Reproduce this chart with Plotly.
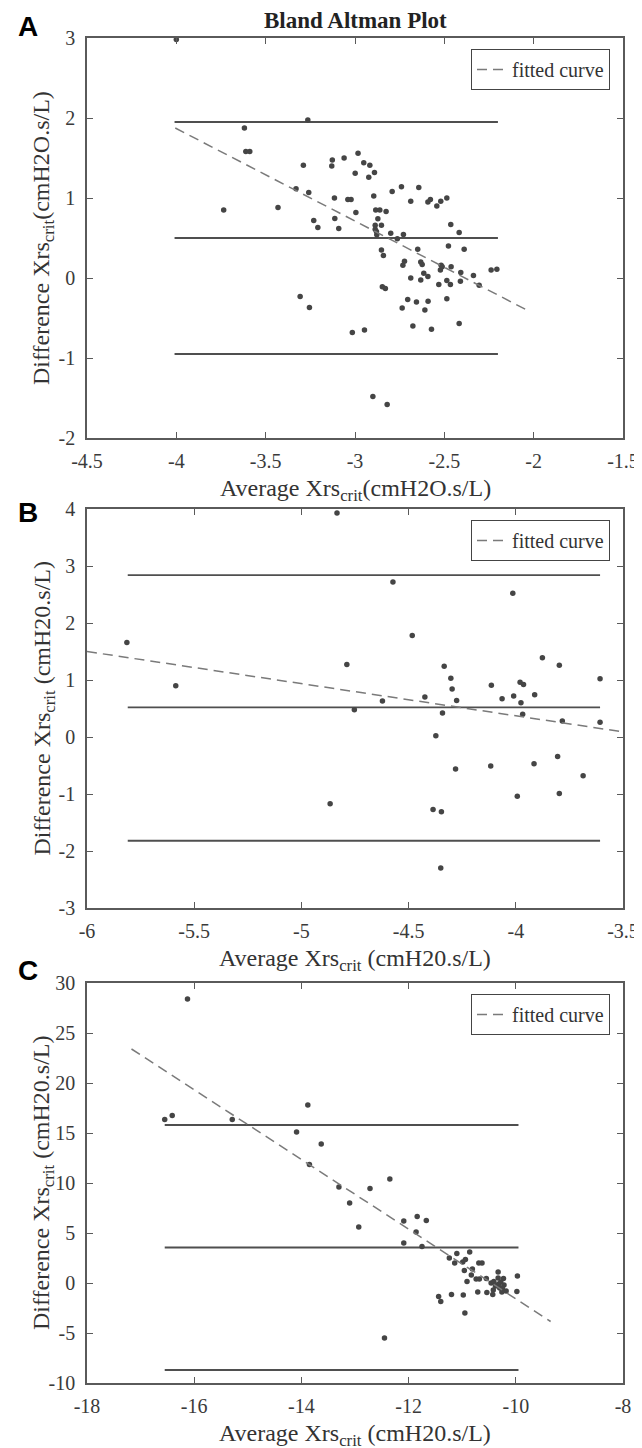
import plotly.graph_objects as go

# ---------------- data ----------------
a_avg = [-4.0, -3.264, -3.619, -3.611, -3.589, -3.289, -3.127, -3.130, -3.061, -2.983,
         -2.951, -2.917, -2.891, -2.923, -2.999, -3.330, -3.259, -3.115, -3.040, -3.022,
         -2.895, -3.735, -3.431, -2.995, -2.884, -2.861, -2.826, -3.231, -3.113, -2.872,
         -3.208, -3.091, -2.887, -2.852, -2.887, -2.880, -2.878, -2.792, -2.740, -2.643,
         -2.688, -2.592, -2.578, -2.542, -2.520, -2.486, -2.800, -2.763, -2.729, -2.464,
         -2.417, -2.477, -2.389, -2.649, -2.852, -2.841, -2.723, -2.732, -2.632, -2.624,
         -2.518, -2.522, -2.512, -2.462, -2.466, -2.408, -2.410, -2.337, -2.238, -2.206,
         -2.305, -2.615, -2.592, -2.632, -2.688, -2.531, -2.486, -2.847, -2.830, -3.307,
         -3.255, -2.705, -2.656, -2.591, -2.486, -2.736, -2.609, -2.417, -2.676, -2.572,
         -3.015, -2.947, -2.90, -2.82]
a_diff = [2.98, 1.975, 1.875, 1.58, 1.58, 1.41, 1.475, 1.40, 1.50, 1.56,
          1.44, 1.41, 1.32, 1.26, 1.31, 1.115, 1.07, 1.00, 0.98, 0.98,
          1.025, 0.85, 0.88, 0.82, 0.85, 0.85, 0.83, 0.72, 0.745, 0.74,
          0.63, 0.62, 0.66, 0.66, 0.61, 0.58, 0.54, 1.08, 1.14, 1.13,
          0.96, 0.95, 0.98, 0.90, 0.96, 1.00, 0.56, 0.49, 0.545, 0.67,
          0.57, 0.40, 0.36, 0.36, 0.35, 0.28, 0.21, 0.16, 0.20, 0.17,
          0.16, 0.10, 0.14, 0.14, -0.08, 0.07, -0.04, 0.03, 0.10, 0.11,
          -0.09, 0.06, 0.02, -0.025, 0.0, -0.08, -0.03, -0.11, -0.13, -0.23,
          -0.37, -0.27, -0.30, -0.29, -0.26, -0.375, -0.40, -0.57, -0.60, -0.64,
          -0.68, -0.65, -1.48, -1.58]
a_loa = [1.95, 0.5, -0.95]
a_loa_x = [-4.01, -2.2]
a_fit_x = [-4.006, -2.03]
a_fit_y = [1.875, -0.41]
a_xticks = [-4.5, -4, -3.5, -3, -2.5, -2, -1.5]
a_xlabels = ["-4.5", "-4", "-3.5", "-3", "-2.5", "-2", "-1.5"]
a_yticks = [-2, -1, 0, 1, 2, 3]
a_ylabels = ["-2", "-1", "0", "1", "2", "3"]

b_avg = [-5.814, -5.586, -4.573, -4.014, -4.483, -4.788, -4.753, -4.866, -4.622, -4.424,
         -4.334, -4.303, -4.297, -4.276, -4.342, -4.373, -4.281, -4.386, -4.347, -4.114,
         -4.064, -4.117, -4.010, -3.980, -3.964, -3.976, -3.968, -3.993, -3.876, -3.912,
         -3.915, -3.797, -3.783, -3.805, -3.797, -3.686, -3.607, -3.607, -4.834, -4.35]
b_diff = [1.66, 0.90, 2.72, 2.52, 1.78, 1.27, 0.48, -1.17, 0.63, 0.70,
          1.24, 1.03, 0.84, 0.64, 0.42, 0.02, -0.56, -1.27, -1.31, 0.91,
          0.67, -0.51, 0.72, 0.96, 0.92, 0.60, 0.40, -1.04, 1.39, 0.74,
          -0.47, 1.26, 0.28, -0.34, -0.99, -0.68, 1.02, 0.26, 3.93, -2.30]
b_loa = [2.84, 0.52, -1.82]
b_loa_x = [-5.81, -3.607]
b_fit_x = [-6.0, -3.5]
b_fit_y = [1.50, 0.09]
b_xticks = [-6, -5.5, -5, -4.5, -4, -3.5]
b_xlabels = ["-6", "-5.5", "-5", "-4.5", "-4", "-3.5"]
b_yticks = [-3, -2, -1, 0, 1, 2, 3, 4]
b_ylabels = ["-3", "-2", "-1", "0", "1", "2", "3", "4"]

c_avg = [-16.125, -16.55, -16.41, -15.29, -13.88, -14.09, -13.63, -13.85, -13.3, -12.72,
         -13.1, -12.93, -12.35, -12.09, -11.84, -11.67, -11.86, -12.09, -11.75, -11.24,
         -11.10, -10.86, -11.14, -10.99, -10.94, -10.96, -10.81, -10.69, -10.63, -10.91,
         -10.83, -10.74, -10.68, -10.55, -10.46, -10.41, -10.35, -10.33, -10.33, -10.23,
         -9.97, -10.38, -10.32, -10.28, -10.22, -10.30, -10.25, -10.18, -10.42, -10.71,
         -10.54, -10.43, -10.26, -9.98, -11.2, -10.98, -11.44, -11.40, -10.95, -12.45]
c_diff = [28.4, 16.35, 16.75, 16.35, 17.8, 15.1, 13.9, 11.85, 9.6, 9.45,
          8.0, 5.6, 10.4, 6.2, 6.65, 6.25, 5.1, 4.0, 3.65, 2.5,
          2.95, 3.1, 2.0, 2.1, 2.35, 1.25, 1.4, 2.0, 2.0, 0.15,
          0.8, 0.4, 0.4, 0.45, 0.0, 0.15, -0.25, 1.1, 0.5, 0.45,
          0.7, -0.3, -0.1, 0.1, -0.2, -0.5, -0.5, -0.8, -0.7, -0.9,
          -0.95, -1.15, -0.9, -0.85, -1.15, -1.2, -1.35, -1.85, -3.0, -5.5]
c_loa = [15.8, 3.55, -8.7]
c_loa_x = [-16.55, -9.95]
c_fit_x = [-17.17, -9.35]
c_fit_y = [23.4, -3.85]
c_xticks = [-18, -16, -14, -12, -10, -8]
c_xlabels = ["-18", "-16", "-14", "-12", "-10", "-8"]
c_yticks = [-10, -5, 0, 5, 10, 15, 20, 25, 30]
c_ylabels = ["-10", "-5", "0", "5", "10", "15", "20", "25", "30"]

panels = [
    dict(avg=a_avg, diff=a_diff, loa=a_loa, loa_x=a_loa_x, fx=a_fit_x, fy=a_fit_y,
         xr=[-4.5, -1.5], yr=[-2, 3], xt=a_xticks, xl=a_xlabels, yt=a_yticks, yl=a_ylabels,
         dom=(38, 438), letter="A", lety=27,
         xtitle="Average Xrs<sub>crit</sub>(cmH2O.s/L)",
         ytitle="Difference Xrs<sub>crit</sub>(cmH2O.s/L)"),
    dict(avg=b_avg, diff=b_diff, loa=b_loa, loa_x=b_loa_x, fx=b_fit_x, fy=b_fit_y,
         xr=[-6, -3.5], yr=[-3, 4], xt=b_xticks, xl=b_xlabels, yt=b_yticks, yl=b_ylabels,
         dom=(509, 908), letter="B", lety=512,
         xtitle="Average Xrs<sub>crit</sub> (cmH20.s/L)",
         ytitle="Difference Xrs<sub>crit</sub> (cmH20.s/L)"),
    dict(avg=c_avg, diff=c_diff, loa=c_loa, loa_x=c_loa_x, fx=c_fit_x, fy=c_fit_y,
         xr=[-18, -8], yr=[-10, 30], xt=c_xticks, xl=c_xlabels, yt=c_yticks, yl=c_ylabels,
         dom=(983, 1383), letter="C", lety=970,
         xtitle="Average Xrs<sub>crit</sub> (cmH20.s/L)",
         ytitle="Difference Xrs<sub>crit</sub> (cmH20.s/L)"),
]

W, H = 642, 1448
OFF = 8            # the page body adds an 8px margin; positions below are page pixels
XL, XR = 87, 623
SERIF = "Liberation Serif"
AXC = "#5a5a5a"
TXT = "#333333"


def px(x):
    return (x - OFF) / W


def py(y):
    return 1 - (y - OFF) / H


fig = go.Figure()
layout = dict(width=W, height=H, margin=dict(l=0, r=0, t=0, b=0, autoexpand=False),
              plot_bgcolor="white", paper_bgcolor="white", showlegend=True,
              font=dict(family=SERIF, size=20, color=TXT))
annotations = []

for i, p in enumerate(panels):
    sfx = "" if i == 0 else str(i + 1)
    xa, ya = "x" + sfx, "y" + sfx
    leg = "legend" + sfx
    for v in p["loa"]:
        fig.add_trace(go.Scatter(x=p["loa_x"], y=[v, v], mode="lines", xaxis=xa, yaxis=ya,
                                 line=dict(color="#4f4f4f", width=1.8), showlegend=False,
                                 hoverinfo="skip"))
    fig.add_trace(go.Scatter(x=p["avg"], y=p["diff"], mode="markers", xaxis=xa, yaxis=ya,
                             marker=dict(color="#454545", size=5.5), showlegend=False))
    fig.add_trace(go.Scatter(x=p["fx"], y=p["fy"], mode="lines", xaxis=xa, yaxis=ya,
                             line=dict(color="#7a7a7a", width=1.5, dash="10px,6px"),
                             name="fitted curve", legend=leg, showlegend=True))
    top, bot = p["dom"]
    common = dict(showline=True, linecolor=AXC, linewidth=1.5, mirror="ticks",
                  ticks="inside", ticklen=6, tickwidth=1.2, tickcolor=AXC, showgrid=False,
                  zeroline=False, automargin=False, tickmode="array",
                  tickfont=dict(family=SERIF, size=20, color="#3a3a3a"))
    layout["xaxis" + sfx] = dict(common, domain=[px(XL), px(XR)], range=p["xr"],
                                 tickvals=p["xt"], ticktext=p["xl"], anchor=ya,
                                 ticklabelstandoff=4)
    layout["yaxis" + sfx] = dict(common, domain=[py(bot), py(top)], range=p["yr"],
                                 tickvals=p["yt"], ticktext=p["yl"], anchor=xa,
                                 ticklabelstandoff=6)
    layout[leg] = dict(x=px(610), xanchor="right", y=py(top + 11), yanchor="top",
                       bordercolor="#444444", borderwidth=1, bgcolor="white",
                       font=dict(family=SERIF, size=20, color=TXT),
                       tracegroupgap=0)
    annotations.append(dict(text=p["xtitle"], x=px((XL + XR) / 2), y=py(bot + 52),
                            xref="paper", yref="paper", showarrow=False,
                            xanchor="center", yanchor="middle",
                            font=dict(family=SERIF, size=24, color=TXT)))
    annotations.append(dict(text=p["ytitle"], x=px(43), y=py((top + bot) / 2),
                            xref="paper", yref="paper", showarrow=False, textangle=-90,
                            xanchor="center", yanchor="middle",
                            font=dict(family=SERIF, size=24, color=TXT)))
    annotations.append(dict(text="<b>%s</b>" % p["letter"], x=px(28), y=py(p["lety"]),
                            xref="paper", yref="paper", showarrow=False, xanchor="center",
                            yanchor="middle",
                            font=dict(family="Liberation Sans", size=28, color="black")))

annotations.append(dict(text="<b>Bland Altman Plot</b>", x=px(355), y=py(20),
                        xref="paper", yref="paper", showarrow=False, xanchor="center",
                        yanchor="middle", font=dict(family=SERIF, size=23, color="#222222")))
layout["annotations"] = annotations
fig.update_layout(**layout)
fig.write_html("out.html")
